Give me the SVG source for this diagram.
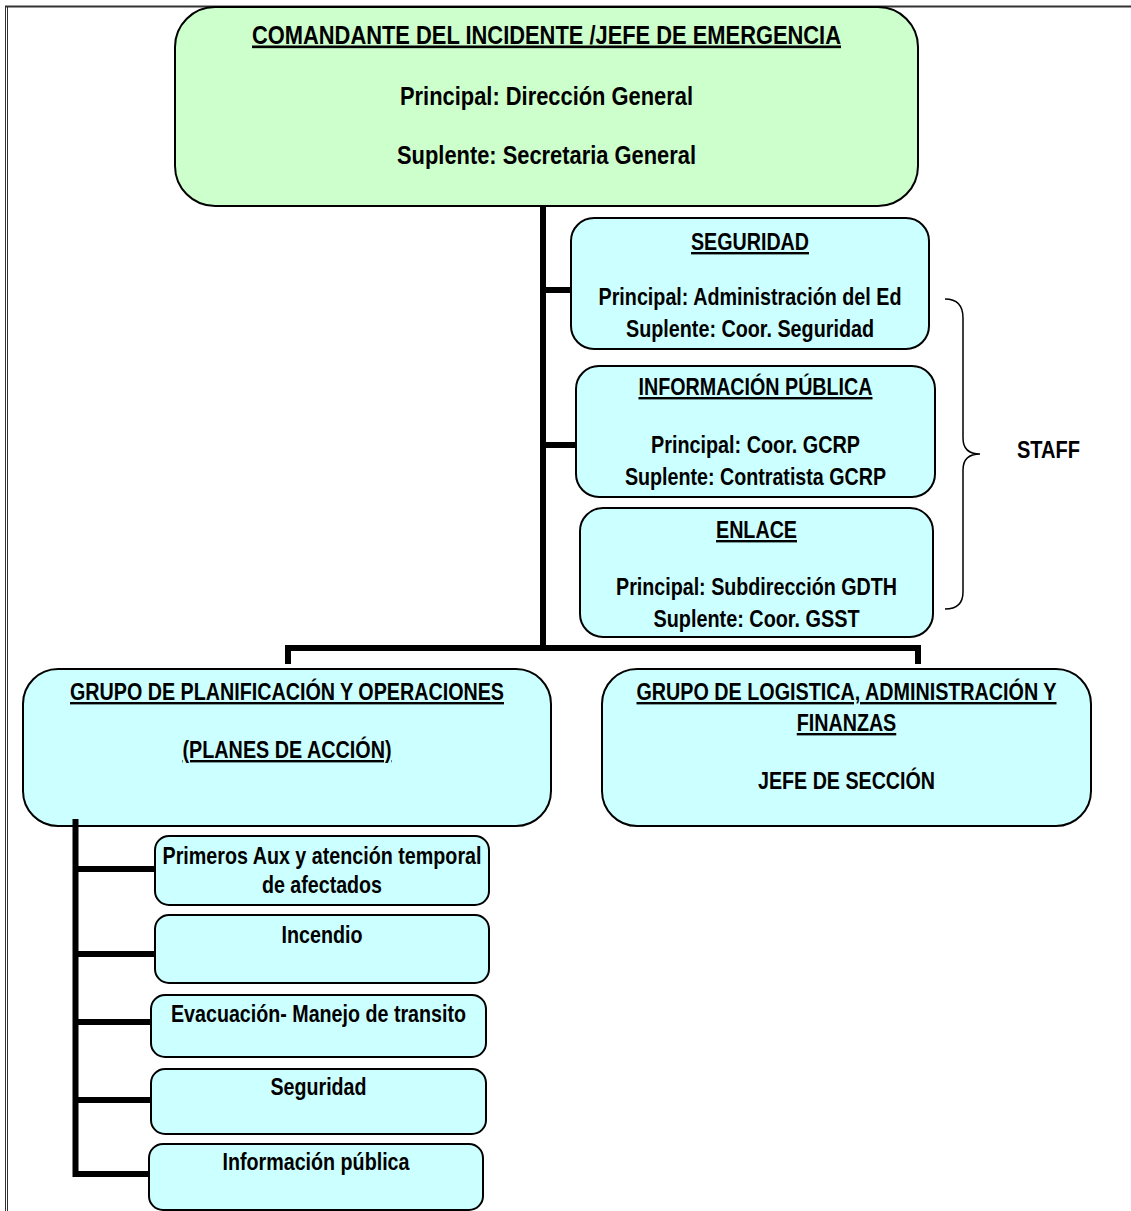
<svg xmlns="http://www.w3.org/2000/svg" width="1131" height="1211" viewBox="0 0 1131 1211">
<style>
.t{font-family:"Liberation Sans Narrow","Arial Narrow","Liberation Sans",Arial,sans-serif;font-weight:bold;font-size:24px;text-anchor:middle;fill:#000}
.big{font-size:26.67px}
.u{text-decoration:underline}
.box{fill:#CCFFFF;stroke:#000;stroke-width:2}
.main{fill:#CCFFCC}
.ln{stroke:#000;stroke-width:6;fill:none;stroke-linejoin:miter;stroke-linecap:butt}
.frame{stroke:#333;fill:none}
.brace{stroke:#000;stroke-width:1.5;fill:none}
</style>
<g id="frame">
<line class="frame" x1="5.5" y1="6" x2="5.5" y2="1211" stroke-width="1"/>
<line class="frame" x1="7.5" y1="6" x2="7.5" y2="1211" stroke-width="1"/>
<line class="frame" x1="5" y1="6.5" x2="1131" y2="6.5" stroke-width="2"/>
</g>
<g id="comandante">
<rect class="box main" x="175" y="7" width="743" height="199" rx="40" ry="40"/>
<text class="t big u" x="546.5" y="43.5" textLength="589" lengthAdjust="spacingAndGlyphs">COMANDANTE DEL INCIDENTE /JEFE DE EMERGENCIA</text>
<text class="t big" x="546.5" y="105" textLength="293" lengthAdjust="spacingAndGlyphs">Principal: Dirección General</text>
<text class="t big" x="546.5" y="164" textLength="299" lengthAdjust="spacingAndGlyphs">Suplente: Secretaria General</text>
</g>
<g id="seguridad">
<rect class="box" x="571" y="218" width="358" height="131" rx="23" ry="23"/>
<text class="t u" x="750" y="250" textLength="118" lengthAdjust="spacingAndGlyphs">SEGURIDAD</text>
<text class="t" x="750" y="305" textLength="303" lengthAdjust="spacingAndGlyphs">Principal: Administración del Ed</text>
<text class="t" x="750" y="337" textLength="248" lengthAdjust="spacingAndGlyphs">Suplente: Coor. Seguridad</text>
</g>
<g id="informacion-publica">
<rect class="box" x="576" y="366" width="359" height="131" rx="23" ry="23"/>
<text class="t u" x="755.5" y="395" textLength="234" lengthAdjust="spacingAndGlyphs">INFORMACIÓN PÚBLICA</text>
<text class="t" x="755.5" y="453" textLength="209" lengthAdjust="spacingAndGlyphs">Principal: Coor. GCRP</text>
<text class="t" x="755.5" y="485" textLength="261" lengthAdjust="spacingAndGlyphs">Suplente: Contratista GCRP</text>
</g>
<g id="enlace">
<rect class="box" x="580" y="508" width="353" height="129" rx="23" ry="23"/>
<text class="t u" x="756.5" y="538" textLength="81" lengthAdjust="spacingAndGlyphs">ENLACE</text>
<text class="t" x="756.5" y="595" textLength="281" lengthAdjust="spacingAndGlyphs">Principal: Subdirección GDTH</text>
<text class="t" x="756.5" y="627" textLength="206" lengthAdjust="spacingAndGlyphs">Suplente: Coor. GSST</text>
</g>
<g id="staff">
<path class="brace" d="M945,299 C957,299 963,305 963,318 L963,438 C963,448 968,454 980,454 C968,454 963,460 963,470 L963,592 C963,604 957,609 945,609"/>
<text class="t" x="1048.5" y="458" textLength="63" lengthAdjust="spacingAndGlyphs">STAFF</text>
</g>
<g id="grupo-planificacion">
<rect class="box" x="23" y="669" width="528" height="157" rx="35" ry="35"/>
<text class="t u" x="287" y="700" textLength="434" lengthAdjust="spacingAndGlyphs">GRUPO DE PLANIFICACIÓN Y OPERACIONES</text>
<text class="t u" x="287" y="758" textLength="209" lengthAdjust="spacingAndGlyphs">(PLANES DE ACCIÓN)</text>
</g>
<g id="grupo-logistica">
<rect class="box" x="602" y="669" width="489" height="157" rx="35" ry="35"/>
<text class="t u" x="846.5" y="700" textLength="420" lengthAdjust="spacingAndGlyphs">GRUPO DE LOGISTICA, ADMINISTRACIÓN Y</text>
<text class="t u" x="846.5" y="731" textLength="99.5" lengthAdjust="spacingAndGlyphs">FINANZAS</text>
<text class="t" x="846.5" y="789" textLength="177" lengthAdjust="spacingAndGlyphs">JEFE DE SECCIÓN</text>
</g>
<g id="primeros-aux">
<rect class="box" x="155" y="836" width="334" height="69" rx="14" ry="14"/>
<text class="t" x="322" y="864" textLength="319" lengthAdjust="spacingAndGlyphs">Primeros Aux y atención temporal</text>
<text class="t" x="322" y="893" textLength="120" lengthAdjust="spacingAndGlyphs">de afectados</text>
</g>
<g id="incendio">
<rect class="box" x="155" y="915" width="334" height="68" rx="14" ry="14"/>
<text class="t" x="322" y="943" textLength="81" lengthAdjust="spacingAndGlyphs">Incendio</text>
</g>
<g id="evacuacion">
<rect class="box" x="151" y="995" width="335" height="62" rx="14" ry="14"/>
<text class="t" x="318.5" y="1021.5" textLength="295" lengthAdjust="spacingAndGlyphs">Evacuación- Manejo de transito</text>
</g>
<g id="seguridad-op">
<rect class="box" x="151" y="1069" width="335" height="65" rx="14" ry="14"/>
<text class="t" x="318.5" y="1095" textLength="96" lengthAdjust="spacingAndGlyphs">Seguridad</text>
</g>
<g id="informacion-op">
<rect class="box" x="149" y="1144" width="334" height="66" rx="14" ry="14"/>
<text class="t" x="316" y="1170" textLength="187" lengthAdjust="spacingAndGlyphs">Información pública</text>
</g>
<g id="connectors">
<path class="ln" d="M543,206 L543,651"/>
<path class="ln" d="M543,290 L571,290"/>
<path class="ln" d="M543,445 L576,445"/>
<path class="ln" d="M288,664 L288,648 L918,648 L918,664"/>
<path class="ln" d="M75.5,819 L75.5,1174 L149,1174"/>
<path class="ln" d="M75.5,869 L155,869"/>
<path class="ln" d="M75.5,954 L155,954"/>
<path class="ln" d="M75.5,1022 L151,1022"/>
<path class="ln" d="M75.5,1100 L151,1100"/>
</g>
</svg>
